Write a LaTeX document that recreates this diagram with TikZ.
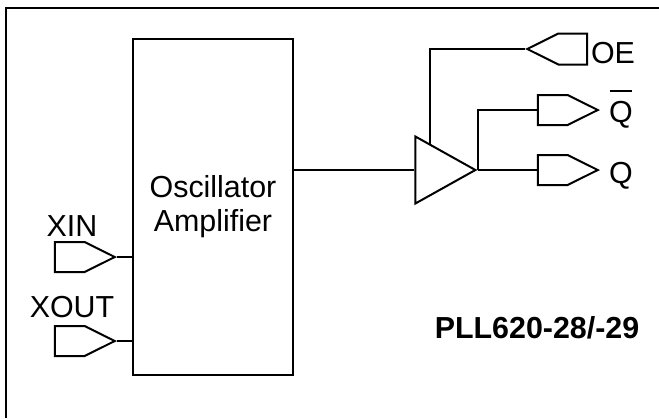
\documentclass[tikz,border=0pt]{standalone}
\usepackage{fontspec}
\setmainfont{Liberation Sans}
\usetikzlibrary{shapes.geometric,shapes.symbols,calc}

% Q with a bar over it
\newcommand{\overQ}{\rlap{\hspace{0.03em}\rule[1.0em]{0.72em}{0.05em}}Q}

\begin{document}
\begin{tikzpicture}[x=0.5pt,y=-0.5pt,line width=1pt,
  every node/.style={font=\fontsize{15.2pt}{17pt}\selectfont},
  port/.style={draw,signal,inner sep=0,minimum width=30pt,minimum height=15pt,signal pointer angle=53},
  lbl/.style={inner sep=0}]

\useasboundingbox (0,0) rectangle (659,418);

% frame
\draw[line width=1.2pt] (6,418) -- (6,8) -- (659,8);

% Nodes
\node[draw,align=center,minimum width=80pt,minimum height=168pt] (osc) at (213,207) {Oscillator\\Amplifier};
\node[draw,isosceles triangle,isosceles triangle stretches,inner sep=0,minimum width=33.5pt,minimum height=30pt,anchor=apex] (buf) at (478,170) {};

\node[port,anchor=east] (xin) at (117,257) {};
\node[port,anchor=east] (xout) at (117,341) {};
\node[port,signal to=west,minimum height=15.5pt,anchor=west] (oe) at (525,49) {};
\node[port,anchor=east] (qb) at (600,110) {};
\node[port,anchor=east] (q) at (600,170) {};

% labels
\node[lbl,anchor=base] (xinlbl) at (72,236) {XIN};
\node[lbl,anchor=base] (xoutlbl) at (72,317) {XOUT};
\node[lbl,anchor=base west] (oelbl) at (590,63) {OE};
\node[lbl,anchor=base west] (qblbl) at (608,122) {\overQ};
\node[lbl,anchor=base west] (qlbl) at (608,183) {Q};
\node[lbl,anchor=base,font=\fontsize{15.2pt}{17pt}\selectfont\bfseries] (part) at (537,338) {PLL620-28/-29};

%wires
\coordinate (oetap) at ($(buf.apex)!0.75!(buf.left corner)$);
\draw (buf.west -| osc.east) -- (buf.west);
\draw (xin.east) -- (xin.east -| osc.west);
\draw (xout.east) -- (xout.east -| osc.west);
\draw (buf.apex) -- (q.west);
\draw (buf.apex) |- (qb.west);
\draw (oetap) |- (oe.west);

\end{tikzpicture}
\end{document}
